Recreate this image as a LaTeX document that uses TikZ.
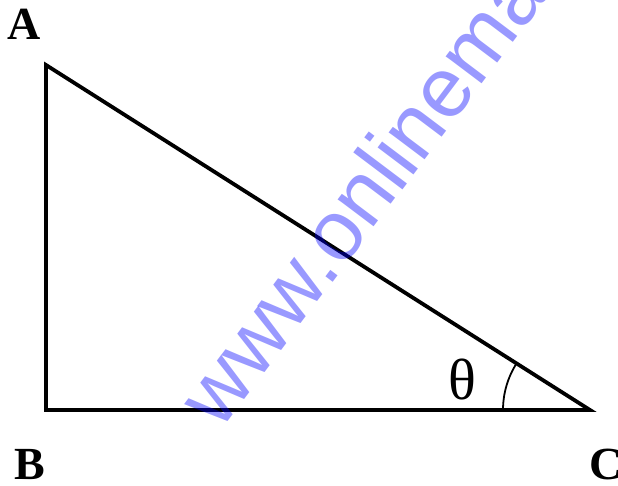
\documentclass[tikz,border=0pt]{standalone}
\usepackage{fontspec}
\usetikzlibrary{calc}
\setmainfont{Liberation Serif}
\newfontfamily\wmfont{Liberation Sans}
\begin{document}
\begin{tikzpicture}[x=1pt,y=-1pt,
  side/.style={line width=3.8pt, line cap=round, line join=miter},
  lbl/.style={font=\fontsize{46}{46}\selectfont\bfseries, inner sep=0pt},
  wm/.style={font=\wmfont\fontsize{85}{85}\selectfont, text=blue, text opacity=0.4, inner sep=0pt, rotate=53, anchor=base west}]
\useasboundingbox (0,0) rectangle (618,485);
\fill[white] (0,0) rectangle (618,485);
\coordinate (A) at (46,65);
\coordinate (B) at (46,410);
\coordinate (C) at (590,410);
\draw[side] (A) -- (B) -- (C) -- cycle;
\draw[line width=1.8pt] ($(C)+(-87,0)$) arc[start angle=180, end angle={180+atan(345/544)}, radius=87];
\node[lbl] (la) at (24.5,24.5) {A};
\node[lbl] (lb) at (30,464.5) {B};
\node[lbl] (lc) at (606,464) {C};
\node[font=\fontsize{58}{58}\selectfont, inner sep=0pt] (th) at (462,379) {θ};
\clip (0,0) rectangle (618,485);
\node[wm] (w) at (220,432) {www.onlinemath4all};
\end{tikzpicture}
\end{document}
